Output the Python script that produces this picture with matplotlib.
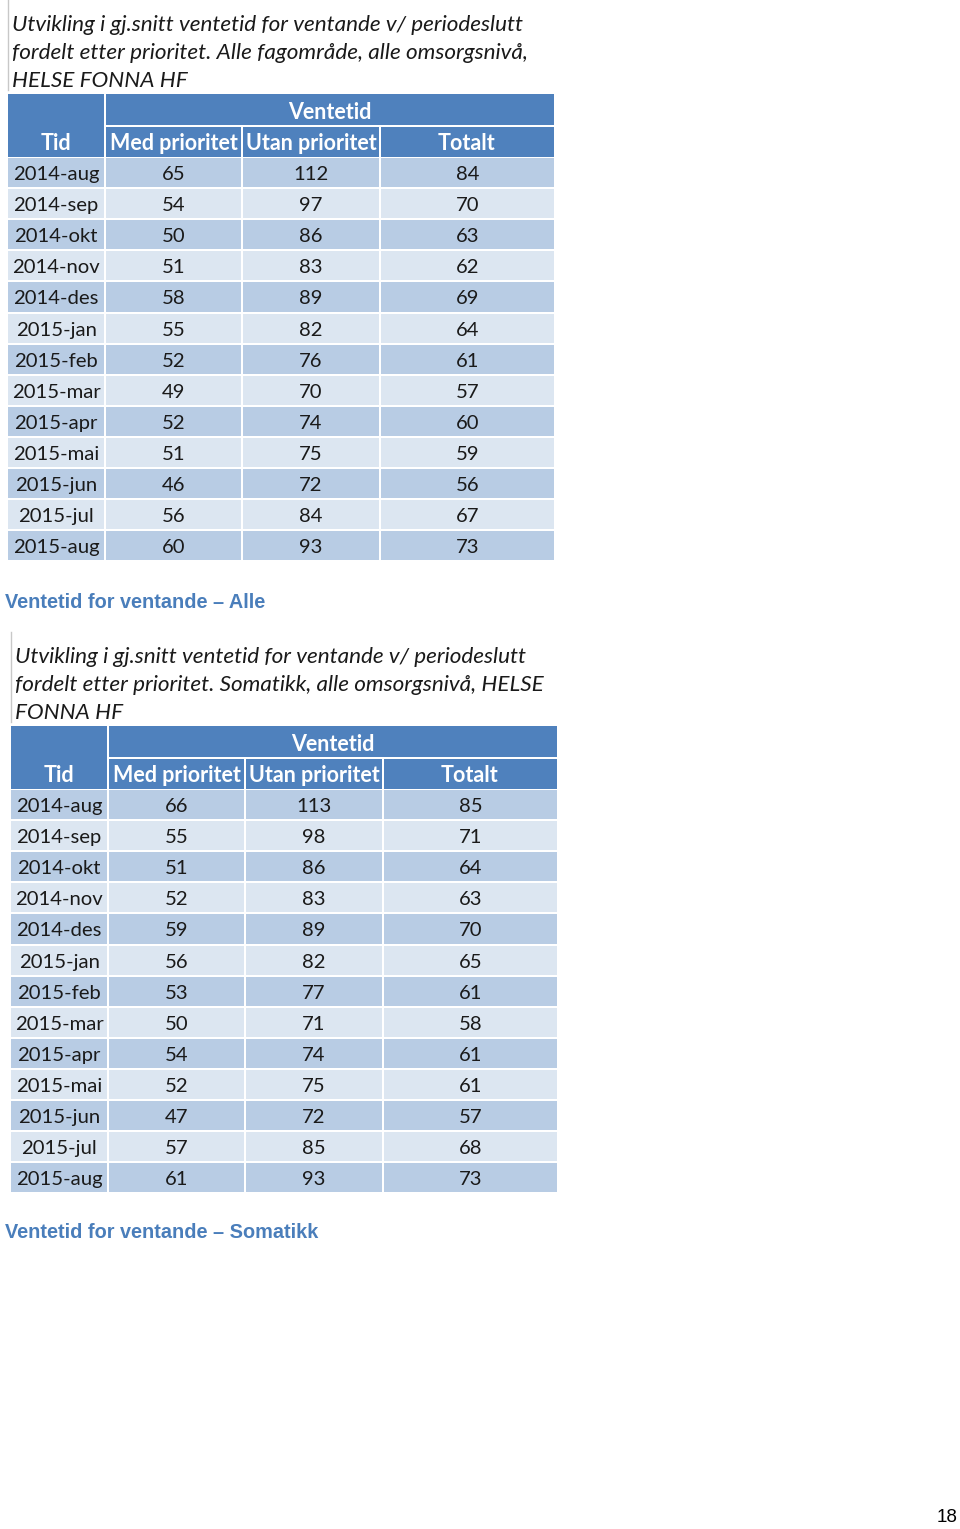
import matplotlib
matplotlib.use("Agg")
import matplotlib.pyplot as plt
from matplotlib.patches import Rectangle

# ---- data ----
months = ["2014-aug", "2014-sep", "2014-okt", "2014-nov", "2014-des", "2015-jan",
          "2015-feb", "2015-mar", "2015-apr", "2015-mai", "2015-jun", "2015-jul", "2015-aug"]
col_headers = ["Tid", "Med prioritet", "Utan prioritet", "Totalt"]
group_header = "Ventetid"

alle_med = [65, 54, 50, 51, 58, 55, 52, 49, 52, 51, 46, 56, 60]
alle_utan = [112, 97, 86, 83, 89, 82, 76, 70, 74, 75, 72, 84, 93]
alle_tot = [84, 70, 63, 62, 69, 64, 61, 57, 60, 59, 56, 67, 73]

som_med = [66, 55, 51, 52, 59, 56, 53, 50, 54, 52, 47, 57, 61]
som_utan = [113, 98, 86, 83, 89, 82, 77, 71, 74, 75, 72, 85, 93]
som_tot = [85, 71, 64, 63, 70, 65, 61, 58, 61, 61, 57, 68, 73]

title_alle = ["Utvikling i gj.snitt ventetid for ventande v/ periodeslutt",
              "fordelt etter prioritet. Alle fagområde, alle omsorgsnivå,",
              "HELSE FONNA HF"]
title_som = ["Utvikling i gj.snitt ventetid for ventande v/ periodeslutt",
             "fordelt etter prioritet. Somatikk, alle omsorgsnivå, HELSE",
             "FONNA HF"]
caption_alle = "Ventetid for ventande – Alle"
caption_som = "Ventetid for ventande – Somatikk"
page_no = "18"

HEAD = "#4F81BD"
DARK = "#B8CCE4"
LIGHT = "#DCE6F1"
CAP = "#4A7EBB"
FONT = "Lato"

W, H = 960, 1529
fig = plt.figure(figsize=(W / 100, H / 100), dpi=100)
ax = fig.add_axes([0, 0, 1, 1])
ax.set_xlim(0, W)
ax.set_ylim(H, 0)
ax.axis("off")


def draw_table(x0, y0, titles, med, utan, tot):
    # thin grey line at left of the title block
    ax.plot([x0, x0], [y0, y0 + 90], color="#c8c8c8", lw=1)
    for i, t in enumerate(titles):
        ax.text(x0 + 4, y0 + 25 + 28 * i, t, fontsize=16.2, style="italic",
                family=FONT, color="#1a1a1a", va="center", ha="left")
    cols = [x0, x0 + 98, x0 + 235, x0 + 373, x0 + 546]
    gap = 2
    hy = y0 + 94
    # header backgrounds
    ax.add_patch(Rectangle((cols[0], hy), cols[1] - cols[0] - gap, 63, color=HEAD, lw=0))
    ax.add_patch(Rectangle((cols[1], hy), cols[4] - cols[1], 31, color=HEAD, lw=0))
    for c in range(1, 4):
        ax.add_patch(Rectangle((cols[c], hy + 33), cols[c + 1] - cols[c] - (gap if c < 3 else 0), 30,
                               color=HEAD, lw=0))
    ax.text((cols[1] + cols[4]) / 2, hy + 18.5, group_header, fontsize=15.5, weight="bold",
            family=FONT, color="white", ha="center", va="center")
    for c, name in enumerate(col_headers):
        ax.text((cols[c] + cols[c + 1] - gap) / 2, hy + 50, name, fontsize=15.5, weight="bold",
                family=FONT, color="white", ha="center", va="center")
    ry0 = hy + 64
    rh = 31.1
    for r, m in enumerate(months):
        top = ry0 + r * rh
        fc = DARK if r % 2 == 0 else LIGHT
        vals = [m, str(med[r]), str(utan[r]), str(tot[r])]
        for c in range(4):
            w = cols[c + 1] - cols[c] - (gap if c < 3 else 0)
            ax.add_patch(Rectangle((cols[c], top), w, rh - gap, color=fc, lw=0))
            ax.text((cols[c] + cols[c] + w) / 2, top + rh / 2 + 1, vals[c], fontsize=14.6,
                    family=FONT, color="#1a1a1a", ha="center", va="center")


draw_table(8, 0, title_alle, alle_med, alle_utan, alle_tot)
ax.text(5, 603, caption_alle, fontsize=14.3, weight="bold", family="Liberation Sans",
        color=CAP, ha="left", va="center")
draw_table(11, 632, title_som, som_med, som_utan, som_tot)
ax.text(5, 1233, caption_som, fontsize=14.3, weight="bold", family="Liberation Sans",
        color=CAP, ha="left", va="center")
ax.text(958, 1518, page_no, fontsize=13.5, family="Liberation Sans", color="black",
        ha="right", va="center")

fig.savefig("out.png", dpi=100)
